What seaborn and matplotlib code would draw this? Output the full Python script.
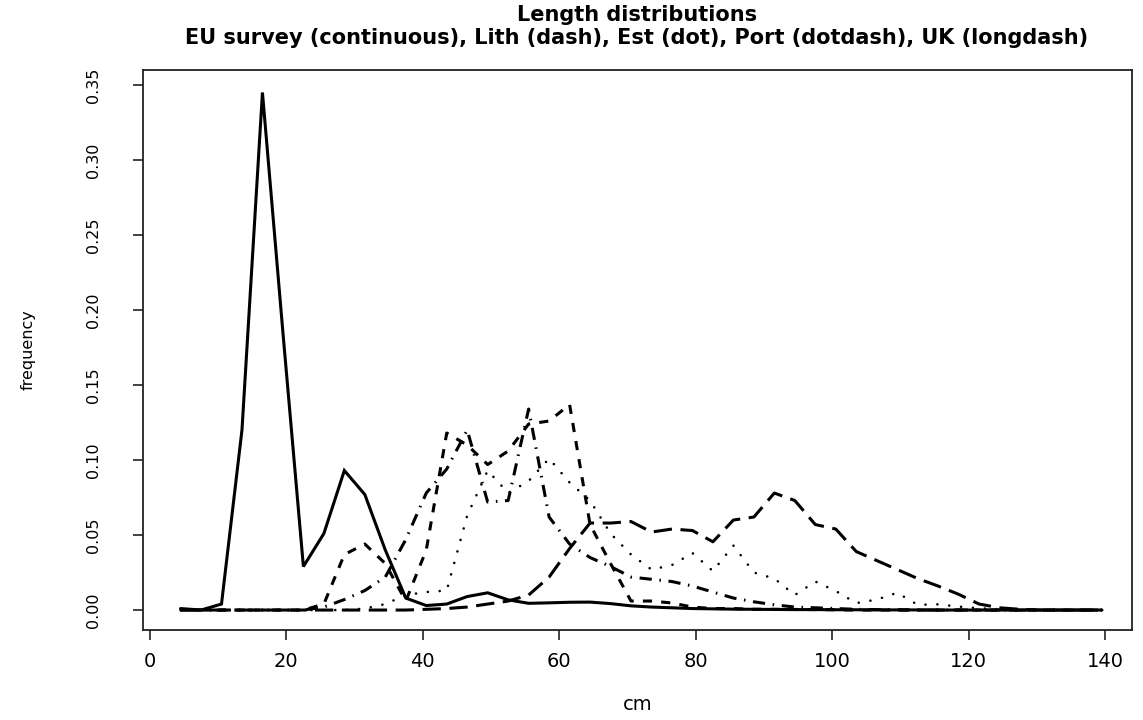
import matplotlib
matplotlib.use("Agg")
import matplotlib.pyplot as plt
import seaborn as sns

## length classes (cm)
lengths = [4.5, 7.5, 10.5, 13.5, 16.5, 19.5, 22.5, 25.5, 28.5, 31.5,
           34.5, 37.5, 40.5, 43.5, 46.5, 49.5, 52.5, 55.5, 58.5, 61.5,
           64.5, 67.5, 70.5, 73.5, 76.5, 79.5, 82.5, 85.5, 88.5, 91.5,
           94.5, 97.5, 100.5, 103.5, 106.5, 109.5, 112.5, 115.5, 118.5, 121.5,
           124.5, 127.5, 130.5, 133.5, 136.5, 139.5]

## frequencies
eu_survey = [0.001, 0.000, 0.004, 0.120, 0.345, 0.185, 0.029, 0.051, 0.093, 0.077,
             0.040, 0.008, 0.003, 0.004, 0.009, 0.0115, 0.0068, 0.0045, 0.0048, 0.0052,
             0.0053, 0.0043, 0.0028, 0.0020, 0.0015, 0.0010, 0.0008, 0.0006, 0.0005, 0.0004,
             0.0003, 0.0003, 0.0002, 0.0002, 0.0001, 0.0001, 0.0001, 0.0, 0.0, 0.0,
             0.0, 0.0, 0.0, 0.0, 0.0, 0.0]

lith = [0.0, 0.0, 0.0, 0.0, 0.0, 0.0, 0.0, 0.004, 0.037, 0.044,
        0.031, 0.006, 0.040, 0.118, 0.110, 0.097, 0.106, 0.124, 0.126, 0.137,
        0.057, 0.031, 0.006, 0.006, 0.0047, 0.002, 0.001, 0.001, 0.0005, 0.0005,
        0.0004, 0.0003, 0.0002, 0.0, 0.0, 0.0, 0.0, 0.0, 0.0, 0.0,
        0.0, 0.0, 0.0, 0.0, 0.0, 0.0]

est = [0.0, 0.0, 0.0, 0.0, 0.0, 0.0, 0.0, 0.0, 0.0, 0.001,
       0.004, 0.010, 0.012, 0.013, 0.063, 0.093, 0.078, 0.086, 0.101, 0.085,
       0.073, 0.051, 0.037, 0.027, 0.030, 0.038, 0.026, 0.043, 0.025, 0.021,
       0.010, 0.019, 0.0127, 0.0046, 0.007, 0.0115, 0.0035, 0.0038, 0.0023, 0.0012,
       0.0005, 0.0, 0.0, 0.0, 0.0, 0.0]

port = [0.0, 0.0, 0.0, 0.0, 0.0, 0.0, 0.0, 0.002, 0.007, 0.013,
        0.022, 0.047, 0.078, 0.094, 0.120, 0.072, 0.073, 0.134, 0.062, 0.044,
        0.035, 0.029, 0.022, 0.0205, 0.019, 0.016, 0.012, 0.008, 0.0055, 0.0035,
        0.002, 0.0015, 0.001, 0.0005, 0.0003, 0.0002, 0.0, 0.0, 0.0, 0.0,
        0.0, 0.0, 0.0, 0.0, 0.0, 0.0]

uk = [0.0, 0.0, 0.0, 0.0, 0.0, 0.0, 0.0, 0.0, 0.0, 0.0,
      0.0, 0.0, 0.0005, 0.001, 0.002, 0.004, 0.006, 0.010, 0.022, 0.041,
      0.058, 0.058, 0.059, 0.052, 0.054, 0.053, 0.0455, 0.060, 0.062, 0.078,
      0.073, 0.057, 0.054, 0.039, 0.033, 0.027, 0.021, 0.016, 0.0105, 0.004,
      0.0015, 0.0005, 0.0, 0.0, 0.0, 0.0]

x_ticks = [0, 20, 40, 60, 80, 100, 120, 140]
y_ticks = [0.00, 0.05, 0.10, 0.15, 0.20, 0.25, 0.30, 0.35]

title_1 = "Length distributions"
title_2 = "EU survey (continuous), Lith (dash), Est (dot), Port (dotdash), UK (longdash)"

## set theme
sns.set_theme(style="ticks")
plt.rcParams["font.family"] = ["DejaVu Sans"]
plt.rcParams["text.color"] = "black"
plt.rcParams["axes.labelcolor"] = "black"
plt.rcParams["xtick.color"] = "black"
plt.rcParams["ytick.color"] = "black"

W, H = 1143, 720
fig = plt.figure(figsize=(W / 100, H / 100), dpi=100)
fig.patch.set_facecolor("white")
# plot box in pixels: left 143, right 1132, top 70, bottom 630
ax = fig.add_axes([143 / W, 1 - 630 / H, (1132 - 143) / W, (630 - 70) / H])
ax.set_facecolor("white")

## draw the five series (R-style line types)
series = [
    (eu_survey, "-", "butt", 2.2),
    (lith, (0, (3, 3)), "butt", 2.2),
    (est, (0, (0.01, 4.5)), "round", 1.9),
    (port, (0, (0.5, 2.5, 4, 2.5)), "butt", 2.2),
    (uk, (0, (6, 2.8)), "butt", 2.2),
]
for vals, ls, cap, lw in series:
    sns.lineplot(x=lengths, y=vals, ax=ax, color="black", linewidth=lw,
                 linestyle=ls, dash_capstyle=cap, solid_joinstyle="miter")

ax.set_xlim(-1.0, 143.9)
ax.set_ylim(-0.0133, 0.36)

## axes, ticks, labels
for sp in ax.spines.values():
    sp.set_visible(True)
    sp.set_color("#222222")
    sp.set_linewidth(1.3)

ax.set_xticks(x_ticks)
ax.set_xticklabels([str(v) for v in x_ticks])
ax.set_yticks(y_ticks)
ax.set_yticklabels([f"{v:.2f}" for v in y_ticks])
ax.tick_params(axis="both", direction="out", length=7, width=1.2, color="#222222")
ax.tick_params(axis="x", labelsize=14, pad=9)
ax.tick_params(axis="y", labelsize=11.5, pad=23, labelrotation=90)
for lbl in ax.get_yticklabels():
    lbl.set_va("center")

ax.set_xlabel("cm", fontsize=14)
ax.xaxis.label.set_va("center")
ax.xaxis.set_label_coords(0.5, (630 - 705) / 560)
ax.set_ylabel("frequency", fontsize=11.5)
ax.yaxis.label.set_va("center")
ax.yaxis.set_label_coords((28 - 143) / 989, 0.5)

fig.text(637 / W, 1 - 15 / H, title_1, ha="center", va="center",
         fontsize=15, fontweight="bold")
fig.text(637 / W, 1 - 38 / H, title_2, ha="center", va="center",
         fontsize=15, fontweight="bold")

plt.savefig("out.png", dpi=100)
plt.close()
